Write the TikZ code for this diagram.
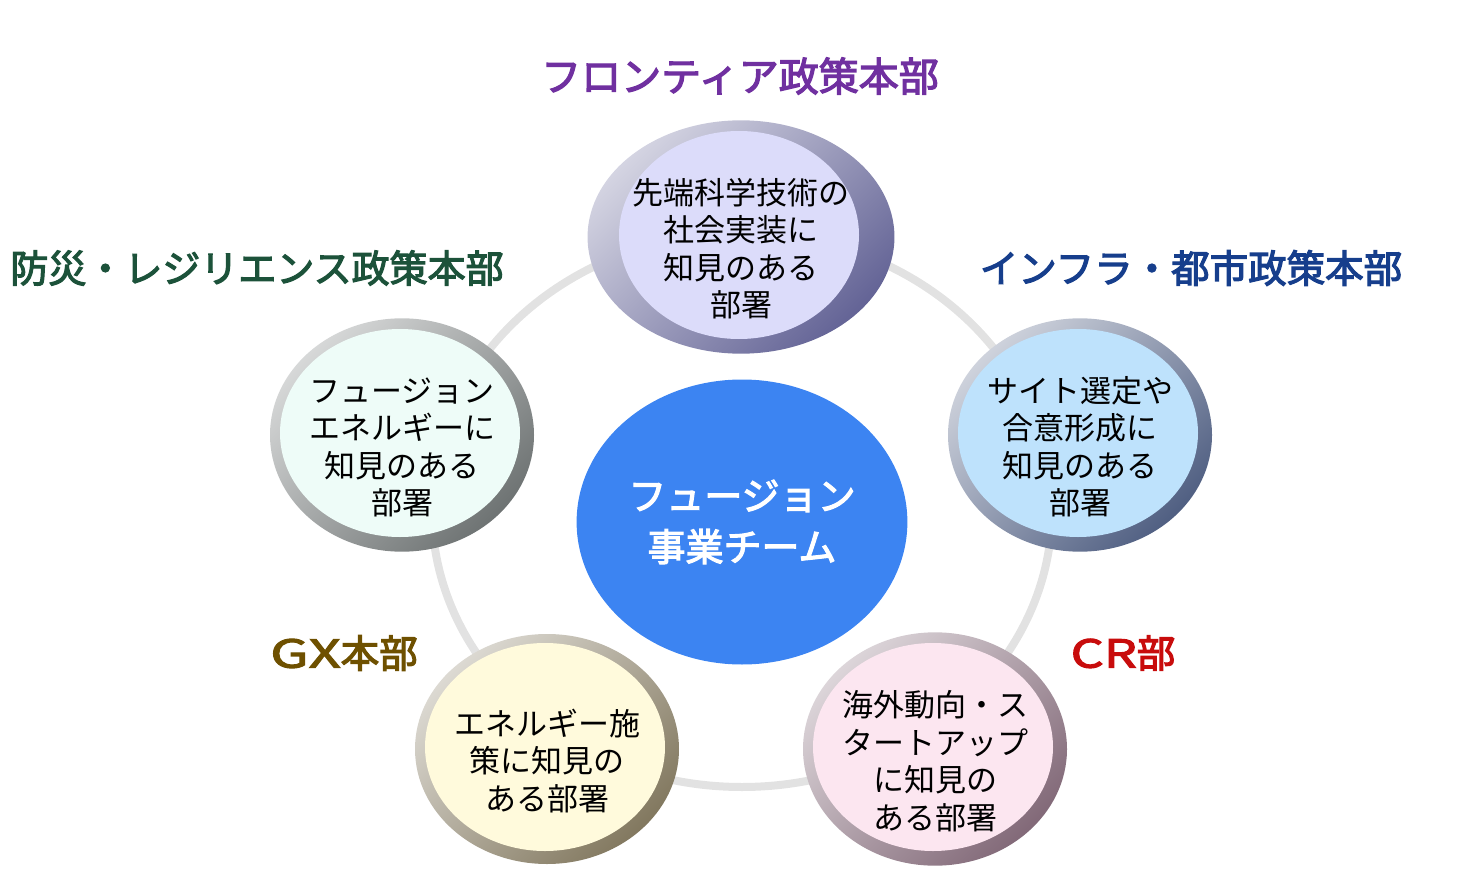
\documentclass[tikz,border=0pt]{standalone}
\usepackage{fontspec}
\setmainfont{Noto Sans CJK JP}
\newfontfamily\headfont{Noto Sans CJK JP}[FakeBold=3]
\usepackage{xcolor}
\usetikzlibrary{shapes.geometric,positioning}

\definecolor{hubblue}{RGB}{60,132,242}
\definecolor{ringgray}{RGB}{226,226,226}
\definecolor{frontier}{RGB}{112,48,160}
\definecolor{bousai}{RGB}{28,82,58}
\definecolor{infra}{RGB}{22,62,140}
\definecolor{gxgold}{RGB}{110,80,0}
\definecolor{crred}{RGB}{200,12,12}
% circle fills and rims
\definecolor{frontfill}{RGB}{220,220,250}
\definecolor{frontrim}{RGB}{100,100,150}
\definecolor{bousaifill}{RGB}{238,252,248}
\definecolor{bousairim}{RGB}{110,115,115}
\definecolor{infrafill}{RGB}{190,226,252}
\definecolor{infrarim}{RGB}{80,95,130}
\definecolor{gxfill}{RGB}{255,250,220}
\definecolor{gxrim}{RGB}{130,120,95}
\definecolor{crfill}{RGB}{252,230,240}
\definecolor{crrim}{RGB}{130,105,120}

% pushes the text of a circle a little down
\newcommand\deptstrut{\rule{0pt}{50pt}}

\begin{document}
\begin{tikzpicture}[x=1pt,y=-1pt,
  ring/.style={draw=ringgray,line width=8pt},
  hub/.style={ellipse,fill=hubblue,minimum width=320pt,minimum height=285pt,
    text=white,align=center,font=\fontsize{38}{51}\headfont},
  dept/.style 2 args={ellipse,minimum width=264pt,minimum height=230pt,inner sep=0pt,
    align=center,font=\fontsize{31}{37.5}\selectfont,
    top color=white!72!#2,bottom color=#2,shading angle=45,
    path picture={\fill[#1] ([xshift=-2pt,yshift=2pt]path picture bounding box.center)
      ellipse (120pt and 104pt);}},
  head/.style={font=\fontsize{38.5}{40}\headfont}]

\useasboundingbox (0,0) rectangle (1484,872);

% ring behind everything
\coordinate (ringc) at (742,510);
\draw[ring] (ringc) ellipse (310 and 277);

% centre team
\node[hub] (team) at (742,522) {フュージョン\\事業チーム};

% departments
\node[dept={frontfill}{frontrim}] (frontbox) at (741,237)
  {\deptstrut 先端科学技術の\\社会実装に\\知見のある\\部署};
\node[dept={bousaifill}{bousairim}] (bousaibox) at (402,435)
  {\deptstrut フュージョン\\エネルギーに\\知見のある\\部署};
\node[dept={infrafill}{infrarim}] (infrabox) at (1080,435)
  {\deptstrut サイト選定や\\合意形成に\\知見のある\\部署};
\node[dept={gxfill}{gxrim}] (gxbox) at (547,749)
  {\deptstrut エネルギー施\\策に知見の\\ある部署};
\node[dept={crfill}{crrim}] (crbox) at (935,749)
  {\deptstrut 海外動向・ス\\タートアップ\\に知見の\\ある部署};

% headquarters labels
\node[head,text=frontier,font=\fontsize{40}{40}\headfont] (fronthq) at (740,76) {フロンティア政策本部};
\node[head,text=bousai,font=\fontsize{38}{40}\headfont] (bousaihq) at (257,268) {防災・レジリエンス政策本部};
\node[head,text=infra] (infrahq) at (1191,268) {インフラ・都市政策本部};
\node[head,text=gxgold] (gxhq) at (344,653) {{\addfontfeatures{FakeStretch=1.45}GX}本部};
\node[head,text=crred] (crhq) at (1123,653) {{\addfontfeatures{FakeStretch=1.35}CR}部};

\end{tikzpicture}
\end{document}
